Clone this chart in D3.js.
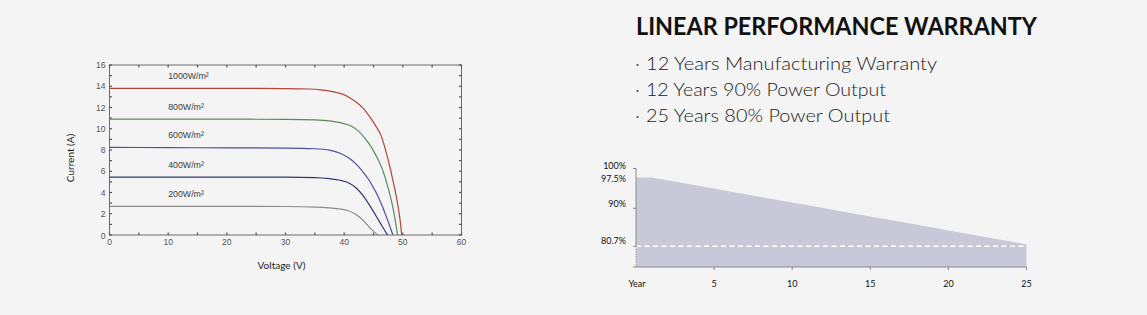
<!DOCTYPE html>
<html>
<head>
<meta charset="utf-8">
<script src="https://cdn.jsdelivr.net/npm/d3@7"></script>
<style>
  html, body { margin: 0; padding: 0; background: #f4f4f4; }
  svg { display: block; }
</style>
</head>
<body>
<svg id="chart" width="1147" height="315"></svg>
<script>
// ---- I-V curves at different irradiance levels ----
const irradianceLabels = ["1000W/m²", "800W/m²", "600W/m²", "400W/m²", "200W/m²"];
const curveColors = ["#b3453d", "#5b8a57", "#4a4f9c", "#2e3a6c", "#8a8a8a"];

const voltage1000 = [0, 10, 20, 30, 34, 36, 38, 39.5, 41, 42.2, 43.3, 44.4, 45.4, 46.3, 47.1, 47.8, 48.4, 48.9, 49.3, 49.6, 49.8];
const current1000 = [13.8, 13.8, 13.8, 13.78, 13.74, 13.66, 13.5, 13.3, 12.9, 12.45, 11.9, 11.1, 10.25, 9.35, 7.9, 6.4, 4.9, 3.6, 2.3, 1.1, 0];

const voltage800 = [0, 10, 20, 30, 35, 37.5, 39.5, 41, 42.3, 43.5, 44.6, 45.6, 46.5, 47.2, 47.8, 48.3, 48.7, 49.1];
const current800 = [10.9, 10.9, 10.9, 10.88, 10.84, 10.75, 10.55, 10.3, 9.85, 9.15, 8.3, 7.3, 6.2, 5.0, 3.8, 2.6, 1.4, 0];

const voltage600 = [0, 10, 20, 30, 35, 37.5, 39.3, 40.8, 42, 43.2, 44.2, 45, 45.8, 46.5, 47.1, 47.6, 48, 48.3];
const current600 = [8.25, 8.22, 8.2, 8.18, 8.12, 7.98, 7.7, 7.25, 6.7, 5.95, 5.2, 4.45, 3.6, 2.7, 1.85, 1.1, 0.5, 0];

const voltage400 = [0, 10, 20, 30, 35, 37.5, 39.3, 40.8, 42, 43.1, 44.1, 45, 45.8, 46.5, 47, 47.4];
const current400 = [5.45, 5.45, 5.45, 5.44, 5.4, 5.3, 5.15, 4.9, 4.45, 3.8, 3.0, 2.2, 1.45, 0.8, 0.35, 0];

const voltage200 = [0, 10, 20, 30, 35, 37.5, 39.3, 40.7, 41.8, 42.8, 43.7, 44.5, 45.2, 45.8];
const current200 = [2.7, 2.7, 2.7, 2.68, 2.63, 2.55, 2.45, 2.28, 2.0, 1.6, 1.1, 0.6, 0.25, 0];

const voltageSeries = [voltage1000, voltage800, voltage600, voltage400, voltage200];
const currentSeries = [current1000, current800, current600, current400, current200];

const voltageTicks = [0, 10, 20, 30, 40, 50, 60];
const currentTicks = [0, 2, 4, 6, 8, 10, 12, 14, 16];

// ---- Linear performance warranty ----
const warrantyTitle = "LINEAR PERFORMANCE WARRANTY";
const warrantyPoints = [
  "12 Years Manufacturing Warranty",
  "12 Years 90% Power Output",
  "25 Years 80% Power Output"
];
const warrantyYears = [0, 1, 2, 3, 4, 5, 6, 7, 8, 9, 10, 11, 12, 13, 14, 15, 16, 17, 18, 19, 20, 21, 22, 23, 24, 25];
const warrantyOutput = [97.5, 97.5, 96.8, 96.1, 95.4, 94.7, 94.0, 93.3, 92.6, 91.9, 91.2, 90.5, 89.8,
                        89.1, 88.4, 87.7, 87.0, 86.3, 85.6, 84.9, 84.2, 83.5, 82.8, 82.1, 81.4, 80.7];
const outputTicks = [100, 97.5, 90, 80.7];
const outputTickLabels = ["100%", "97.5%", "90%", "80.7%"];
const yearTicks = [0, 5, 10, 15, 20, 25];
const yearTickLabels = ["Year", "5", "10", "15", "20", "25"];
const guaranteedOutput = 80.7;

const svg = d3.select("#chart");

// ================= Left: I-V chart =================
const x = d3.scaleLinear().domain([0, 60]).range([109.5, 461.5]);
const y = d3.scaleLinear().domain([0, 16]).range([235, 65]);

const iv = svg.append("g");

// frame
iv.append("rect")
  .attr("x", x(0)).attr("y", y(16))
  .attr("width", x(60) - x(0)).attr("height", y(0) - y(16))
  .attr("fill", "none").attr("stroke", "#6a6a6a").attr("stroke-width", 1);

// inward ticks on all four sides
const tickLen = 2.5;
const xMinor = d3.range(0, 61, 5);
const yMinor = d3.range(0, 17, 1);
const tickStroke = "#555";
xMinor.forEach(v => {
  iv.append("line").attr("x1", x(v)).attr("x2", x(v)).attr("y1", y(0)).attr("y2", y(0) - tickLen)
    .attr("stroke", tickStroke).attr("stroke-width", 1.2);
  iv.append("line").attr("x1", x(v)).attr("x2", x(v)).attr("y1", y(16)).attr("y2", y(16) + tickLen)
    .attr("stroke", tickStroke).attr("stroke-width", 1.2);
});
yMinor.forEach(v => {
  iv.append("line").attr("x1", x(0)).attr("x2", x(0) + tickLen).attr("y1", y(v)).attr("y2", y(v))
    .attr("stroke", tickStroke).attr("stroke-width", 1.2);
  iv.append("line").attr("x1", x(60)).attr("x2", x(60) - tickLen).attr("y1", y(v)).attr("y2", y(v))
    .attr("stroke", tickStroke).attr("stroke-width", 1.2);
});

// tick labels
iv.selectAll(".xl").data(voltageTicks).enter().append("text")
  .attr("x", d => x(d)).attr("y", y(0) + 10)
  .attr("text-anchor", "middle")
  .attr("font-family", "Liberation Sans, Arial, sans-serif").attr("font-size", 8.5).attr("fill", "#555")
  .text(d => d);
iv.selectAll(".yl").data(currentTicks).enter().append("text")
  .attr("x", x(0) - 4).attr("y", d => y(d) + 3 + (d === 0 ? 1 : 0))
  .attr("text-anchor", "end")
  .attr("font-family", "Liberation Sans, Arial, sans-serif").attr("font-size", 8.5).attr("fill", "#555")
  .text(d => d);

// axis titles
iv.append("text")
  .attr("x", (x(0) + x(60)) / 2 - 4).attr("y", 269)
  .attr("text-anchor", "middle")
  .attr("font-family", "Lato, sans-serif").attr("font-size", 10).attr("fill", "#222")
  .text("Voltage (V)");
iv.append("text")
  .attr("transform", `translate(74,${(y(0) + y(16)) / 2 + 8}) rotate(-90)`)
  .attr("text-anchor", "middle")
  .attr("font-family", "Lato, sans-serif").attr("font-size", 10).attr("fill", "#222")
  .text("Current (A)");

// curves
const ivLine = d3.line()
  .x(d => x(d[0])).y(d => y(d[1]))
  .curve(d3.curveMonotoneX);

voltageSeries.forEach((vs, i) => {
  const pts = vs.map((v, k) => [v, currentSeries[i][k]]);
  iv.append("path").datum(pts)
    .attr("d", ivLine)
    .attr("fill", "none")
    .attr("stroke", curveColors[i])
    .attr("stroke-width", 1.2);
  // irradiance label above each curve
  iv.append("text")
    .attr("x", x(10)).attr("y", y(currentSeries[i][0]) - 9)
    .attr("font-family", "Liberation Sans, Arial, sans-serif").attr("font-size", 8.8)
    .attr("fill", "#3a3a3a")
    .text(irradianceLabels[i]);
});

// ================= Right: warranty =================
const wr = svg.append("g");

wr.append("text")
  .attr("x", 636).attr("y", 35)
  .attr("font-family", "Lato, sans-serif").attr("font-weight", 700).attr("font-size", 24)
  .attr("fill", "#111")
  .attr("textLength", 401).attr("lengthAdjust", "spacingAndGlyphs")
  .text(warrantyTitle);

const bulletWidths = [301, 250, 254];
warrantyPoints.forEach((t, i) => {
  const by = 70 + i * 26;
  wr.append("circle").attr("cx", 637.5).attr("cy", by - 5).attr("r", 1.1).attr("fill", "#444");
  wr.append("text")
    .attr("x", 646).attr("y", by)
    .attr("font-family", "Lato, sans-serif").attr("font-weight", 300).attr("font-size", 17)
    .attr("fill", "#222")
    .attr("textLength", bulletWidths[i] - 10).attr("lengthAdjust", "spacingAndGlyphs")
    .text(t);
});

const wx = d3.scaleLinear().domain([0, 25]).range([636, 1026.5]);
const wy = d3.scaleLinear().domain([75, 100]).range([267, 167.5]);

const area = d3.area()
  .x(d => wx(d[0]))
  .y0(wy(75))
  .y1(d => wy(d[1]));

wr.append("path")
  .datum(warrantyYears.map((yr, k) => [yr, warrantyOutput[k]]))
  .attr("d", area)
  .attr("fill", "#c9c8d8");

// guaranteed output line
wr.append("line")
  .attr("x1", wx(0)).attr("x2", wx(25))
  .attr("y1", wy(guaranteedOutput) + 2).attr("y2", wy(guaranteedOutput) + 2)
  .attr("stroke", "#fff").attr("stroke-width", 1.4)
  .attr("stroke-dasharray", "5,3.5");

// y axis: solid down to the guaranteed level, dotted below it
wr.append("line")
  .attr("x1", wx(0)).attr("x2", wx(0))
  .attr("y1", wy(100) + 1).attr("y2", wy(guaranteedOutput) + 2)
  .attr("stroke", "#8a8a8a").attr("stroke-width", 1);
wr.append("line")
  .attr("x1", wx(0)).attr("x2", wx(0))
  .attr("y1", wy(guaranteedOutput) + 2).attr("y2", wy(75))
  .attr("stroke", "#8a8a8a").attr("stroke-width", 1)
  .attr("stroke-dasharray", "1,1.5");

// x axis
wr.append("line")
  .attr("x1", wx(0) - 3).attr("x2", wx(25))
  .attr("y1", wy(75)).attr("y2", wy(75))
  .attr("stroke", "#8a8a8a").attr("stroke-width", 1);

yearTicks.forEach((yr, k) => {
  if (yr > 0) {
    wr.append("line").attr("x1", wx(yr)).attr("x2", wx(yr))
      .attr("y1", wy(75)).attr("y2", wy(75) + 3)
      .attr("stroke", "#8a8a8a").attr("stroke-width", 1);
  }
  wr.append("text")
    .attr("x", wx(yr) + (yr === 0 ? 1 : 0)).attr("y", 287)
    .attr("text-anchor", "middle")
    .attr("font-family", "Lato, sans-serif").attr("font-size", 9).attr("fill", "#111")
    .text(yearTickLabels[k]);
});

outputTicks.forEach((v, k) => {
  if (v !== 97.5) {
    const ty = v === guaranteedOutput ? wy(v) + 2 : wy(v) + 1;
    wr.append("line").attr("x1", wx(0) - 3).attr("x2", wx(0))
      .attr("y1", ty).attr("y2", ty)
      .attr("stroke", "#8a8a8a").attr("stroke-width", 1);
  }
  // the 97.5% label sits a little lower so it clears the 100% label
  const ly = v === 97.5 ? wy(v) + 5 : (v === 100 ? wy(v) + 1 : wy(v));
  wr.append("text")
    .attr("x", 626).attr("y", ly)
    .attr("text-anchor", "end")
    .attr("font-family", "Lato, sans-serif").attr("font-size", 9).attr("fill", "#111")
    .text(outputTickLabels[k]);
});
</script>
</body>
</html>
